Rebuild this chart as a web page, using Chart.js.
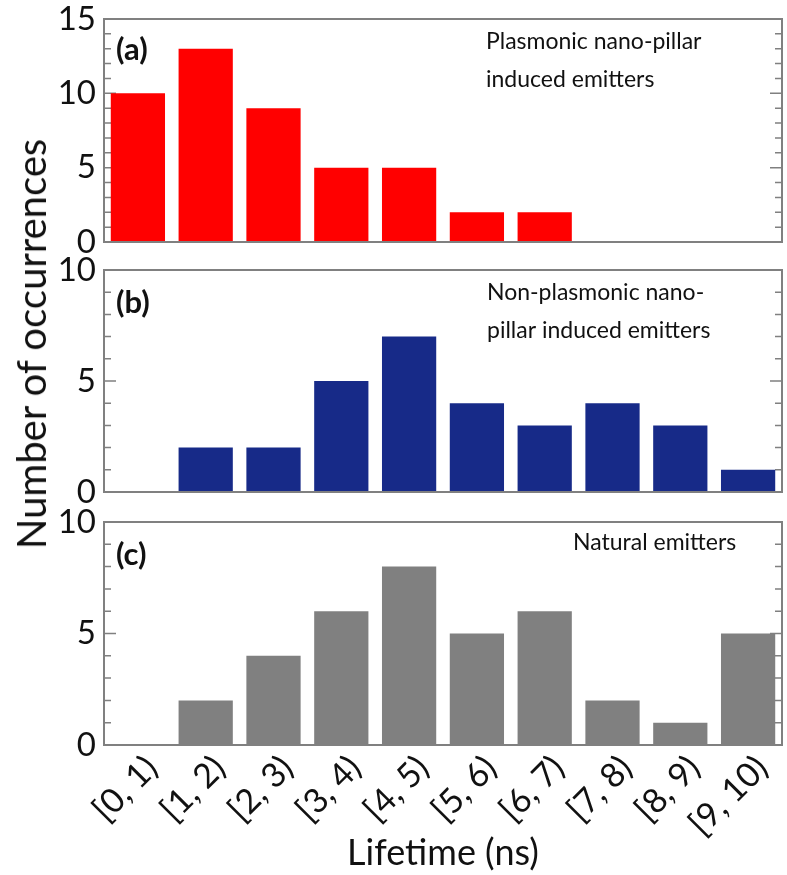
<!DOCTYPE html>
<html lang="en">
<head>
<meta charset="UTF-8">
<title>Emitter lifetime histograms</title>
<script src="https://cdn.jsdelivr.net/npm/chart.js@4.4.0/dist/chart.umd.min.js"></script>
<style>
  body { margin: 0; background: #fff; }
  .figure { position: relative; width: 787px; height: 875px; font-family: Lato, sans-serif; }
  .panel { position: absolute; left: 0; width: 787px; }
  .ytitle {
    position: absolute; left: 31px; top: 344px;
    transform: translate(-50%, -50%) rotate(-90deg);
    white-space: nowrap; font-size: 40px; color: #111;
  }
</style>
</head>
<body>
<div class="figure">
  <div class="panel" style="top:0; height:270px;"><canvas id="chartA"></canvas></div>
  <div class="panel" style="top:250px; height:272px;"><canvas id="chartB"></canvas></div>
  <div class="panel" style="top:500px; height:375px;"><canvas id="chartC"></canvas></div>
  <div class="ytitle">Number of occurrences</div>
</div>
<script>
// Data
const lifetimeBins = ['[0, 1)', '[1, 2)', '[2, 3)', '[3, 4)', '[4, 5)', '[5, 6)', '[6, 7)', '[7, 8)', '[8, 9)', '[9, 10)'];
const plasmonicCounts = [10, 13, 9, 5, 5, 2, 2, 0, 0, 0];
const nonPlasmonicCounts = [0, 2, 2, 5, 7, 4, 3, 4, 3, 1];
const naturalCounts = [0, 2, 4, 6, 8, 5, 6, 2, 1, 5];
const yMaxA = 15;
const yMaxBC = 10;
const yStep = 5;

// frame, inward ticks and panel texts
const framePlugin = {
    id: 'frame',
    beforeDatasetsDraw(chart) {
        const {ctx, chartArea: a, scales: {y}} = chart;
        ctx.save();
        ctx.strokeStyle = '#808080';
        ctx.lineWidth = 1.5;
        for (let v = y.min; v <= y.max; v++) {
            const py = y.getPixelForValue(v);
            const len = v % 5 === 0 ? 12 : 7;
            ctx.beginPath();
            ctx.moveTo(a.left, py); ctx.lineTo(a.left + len, py);
            ctx.moveTo(a.right, py); ctx.lineTo(a.right - len, py);
            ctx.stroke();
        }
        ctx.restore();
    },
    afterDatasetsDraw(chart, args, opts) {
        const {ctx, chartArea: a} = chart;
        ctx.save();
        ctx.strokeStyle = '#808080';
        ctx.lineWidth = 2;
        ctx.strokeRect(a.left, a.top, a.right - a.left, a.bottom - a.top);
        ctx.fillStyle = '#111';
        ctx.textBaseline = 'middle';
        ctx.font = 'bold 31px Lato';
        ctx.fillText(opts.tag, a.left + 12, a.top + opts.tagY);
        ctx.font = '23px Lato';
        opts.note.forEach((line, i) => ctx.fillText(line, opts.noteX, a.top + opts.noteY + i * 38));
        ctx.restore();
    }
};

function makeChart(id, counts, color, yMax, showX, frame, padding) {
    const ctx = document.getElementById(id).getContext('2d');
    return new Chart(ctx, {
        type: 'bar',
        data: {
            labels: lifetimeBins,
            datasets: [{
                data: counts,
                backgroundColor: color,
                borderWidth: 0,
                barPercentage: 0.8,
                categoryPercentage: 1.0
            }]
        },
        options: {
            responsive: true,
            maintainAspectRatio: false,
            animation: false,
            layout: { padding: padding },
            plugins: {
                legend: { display: false },
                tooltip: { enabled: false },
                frame: frame
            },
            scales: {
                x: {
                    display: showX,
                    grid: { display: false, drawTicks: false },
                    border: { display: false },
                    ticks: {
                        color: '#111',
                        font: { family: 'Lato', size: 34 },
                        minRotation: 45,
                        maxRotation: 45,
                        labelOffset: 14,
                        padding: 3,
                        autoSkip: false
                    },
                    title: {
                        display: showX,
                        text: 'Lifetime (ns)',
                        color: '#111',
                        font: { family: 'Lato', size: 36, lineHeight: 1.2 },
                        padding: { top: 0, bottom: 0 }
                    },
                    afterFit(s) { if (showX) s.height = 130; }
                },
                y: {
                    min: 0,
                    max: yMax,
                    grid: { display: false, drawTicks: false },
                    border: { display: false },
                    ticks: {
                        stepSize: yStep,
                        color: '#111',
                        font: { family: 'Lato', size: 33 },
                        padding: 8
                    },
                    afterFit(s) { s.width = 104; s.paddingTop = 0; s.paddingBottom = 0; }
                }
            }
        },
        plugins: [framePlugin]
    });
}

makeChart('chartA', plasmonicCounts, '#ff0000', yMaxA, false,
    { tag: '(a)', tagY: 31, note: ['Plasmonic nano-pillar', 'induced emitters'], noteX: 486, noteY: 23 },
    { top: 19, right: 5, bottom: 28, left: 0 });
makeChart('chartB', nonPlasmonicCounts, '#172a88', yMaxBC, false,
    { tag: '(b)', tagY: 33, note: ['Non-plasmonic nano-', 'pillar induced emitters'], noteX: 487, noteY: 23 },
    { top: 20, right: 5, bottom: 30, left: 0 });
makeChart('chartC', naturalCounts, '#808080', yMaxBC, true,
    { tag: '(c)', tagY: 33, note: ['Natural emitters'], noteX: 573, noteY: 21 },
    { top: 22, right: 5, bottom: 0, left: 0 });
</script>
</body>
</html>
